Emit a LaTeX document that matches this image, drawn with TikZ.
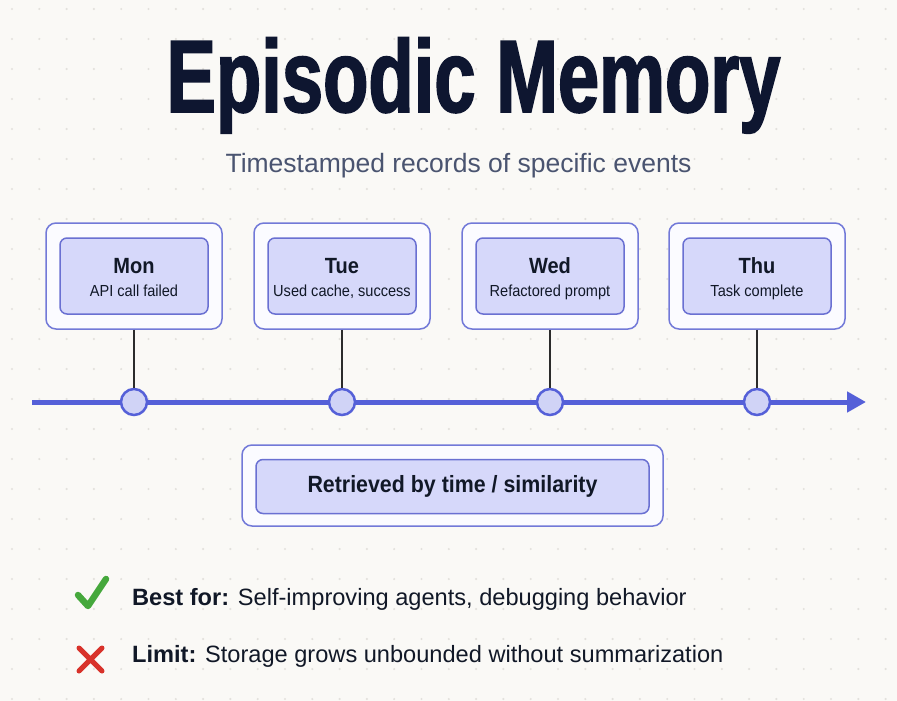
\documentclass[tikz,border=0pt]{standalone}
\usepackage{fontspec}
\setmainfont{Liberation Sans}
\newfontfamily\titlefont[FakeStretch=0.72,FakeBold=1.6]{Liberation Sans}
\newfontfamily\condfont[FakeStretch=0.91]{Liberation Sans}
\usetikzlibrary{arrows.meta,positioning,calc}

\definecolor{bgcol}{HTML}{FAF9F6}
\definecolor{dotcol}{HTML}{E3E1DD}
\definecolor{titlecol}{HTML}{0E1630}
\definecolor{subcol}{HTML}{4A5470}
\definecolor{textcol}{HTML}{111827}
\definecolor{outline}{HTML}{7279D8}
\definecolor{outfill}{HTML}{FBFBFF}
\definecolor{infill}{HTML}{D6D8FA}
\definecolor{inline}{HTML}{6A70D2}
\definecolor{lineblue}{HTML}{5560D8}
\definecolor{dotfill}{HTML}{D0D3F6}
\definecolor{stemcol}{HTML}{2B2B2B}
\definecolor{okgreen}{HTML}{45A83C}
\definecolor{nored}{HTML}{D8322A}

\tikzset{
  outbox/.style={draw=outline, fill=outfill, line width=1.5pt, rounded corners=10pt,
    minimum width=176pt, minimum height=106pt, inner sep=0pt},
  inbox/.style={draw=inline, fill=infill, line width=1.5pt, rounded corners=7pt,
    minimum width=148pt, minimum height=76pt, inner sep=0pt},
  daytxt/.style={text=textcol, font=\condfont\bfseries\fontsize{22}{22}\selectfont, inner sep=0pt},
  desctxt/.style={text=textcol, font=\condfont\fontsize{16}{16}\selectfont, inner sep=0pt},
  tick/.style={circle, draw=lineblue, fill=dotfill, line width=2.5pt, minimum size=26pt, inner sep=0pt},
  stem/.style={draw=stemcol, line width=2.8pt},
  timeline/.style={draw=lineblue, line width=5pt, -{Triangle[length=19pt,width=20pt]}},
  rowtxt/.style={text=textcol, font=\fontsize{23.6}{23.6}\selectfont, inner sep=0pt, anchor=base west}
}

\begin{document}
\begin{tikzpicture}[x=1pt,y=-1pt,>=Stealth]
  \fill[bgcol] (0,0) rectangle (897,701);
  \useasboundingbox (0,0) rectangle (897,701);
  \foreach \i in {0,...,32}{
    \foreach \j in {0,...,23}{
      \fill[dotcol] ({12+27.3*\i},{9+30*\j}) circle (1.2);
    }
  }

  \node[anchor=base, text=titlecol, inner sep=0pt,
    font=\titlefont\bfseries\fontsize{103}{103}\selectfont] (title) at (473.5,112) {Episodic Memory};
  \node[anchor=base, text=subcol, inner sep=0pt,
    font=\fontsize{26.5}{26.5}\selectfont] (subtitle) at (458.5,172) {Timestamped records of specific events};

  \coordinate (tl-start) at (32,402);
  \coordinate (tl-end) at (866,402);
  \draw[timeline] (tl-start) -- (tl-end);

  \foreach \x/\d/\t/\n in {134/Mon/API call failed/mon, 342/Tue/{Used cache, success}/tue,
                          550/Wed/Refactored prompt/wed, 757/Thu/Task complete/thu}{
    \node[outbox] (\n-out) at (\x,276) {};
    \node[inbox] (\n) at (\x,276) {};
    \node[daytxt, anchor=base] (\n-day) at ([yshift=3pt]\n.center) {\d};
    \node[desctxt, anchor=base] (\n-desc) at ([yshift=-20pt]\n.center) {\t};
    \node[tick] (\n-dot) at (\x,402) {};
    \draw[stem] (\n-out.south) -- (\n-dot.north);
  }

  \node[outbox, minimum width=421pt, minimum height=81pt] (ret-out) at (452.5,485.5) {};
  \node[inbox, minimum width=393pt, minimum height=54pt, text=textcol,
    font=\condfont\bfseries\fontsize{23.5}{23.5}\selectfont] (ret) at (452.5,486.5) {Retrieved by time / similarity};

  \draw[okgreen, line width=6.5pt, line cap=round, line join=round] (78,595) -- (88,606) -- (106,579);
  \node[rowtxt] (best) at (132,605) {\textbf{Best for:} Self-improving agents, debugging behavior};

  \draw[nored, line width=5pt, line cap=round] (79,648) -- (102,671) (102,648) -- (79,671);
  \node[rowtxt] (limit) at (132,662) {\textbf{Limit:} Storage grows unbounded without summarization};
\end{tikzpicture}
\end{document}
